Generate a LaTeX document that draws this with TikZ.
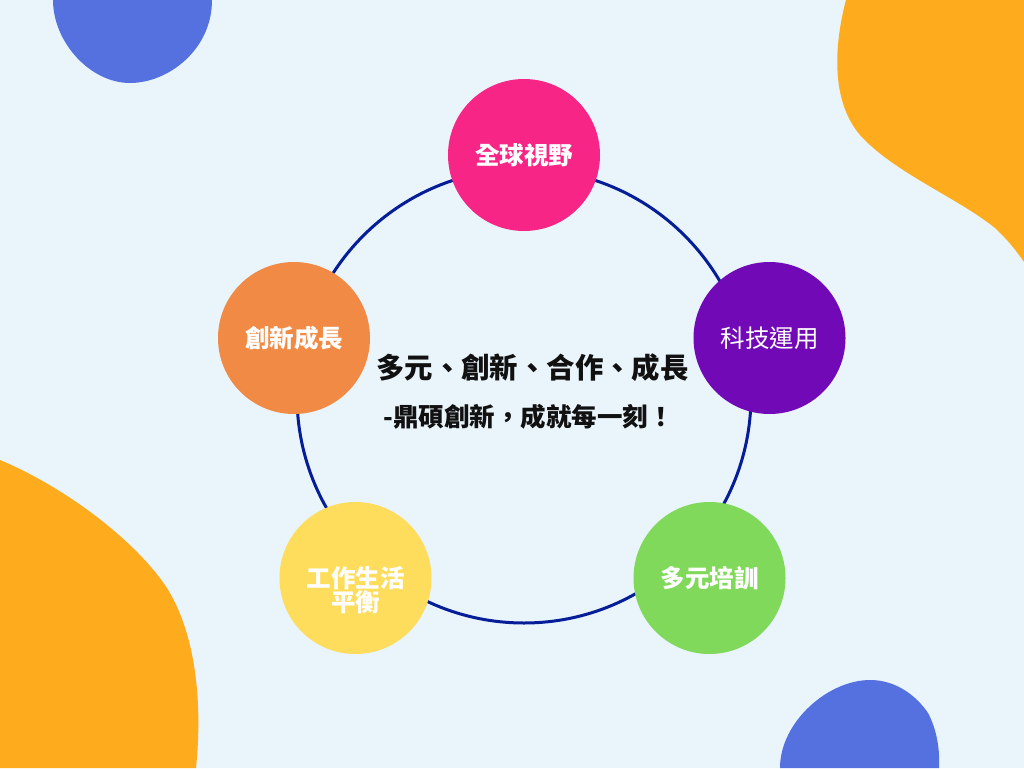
\documentclass[tikz,border=0pt]{standalone}
\usepackage{fontspec}
\newfontfamily\cjk{Noto Sans CJK TC}
\definecolor{bgc}{HTML}{E9F4FB}
\definecolor{blobblue}{HTML}{5570DF}
\definecolor{bloborange}{HTML}{FEAC1D}
\definecolor{cpink}{HTML}{F72585}
\definecolor{cpurple}{HTML}{7209B7}
\definecolor{cgreen}{HTML}{80D95A}
\definecolor{cyellow}{HTML}{FFDD5C}
\definecolor{corange}{HTML}{F08A45}
\definecolor{ringc}{HTML}{051E98}
\definecolor{txt}{HTML}{111111}
\tikzset{
  bubble/.style={circle, minimum size=152pt, inner sep=0pt, text=white, align=center,
    font=\cjk\bfseries\fontsize{24.5pt}{24pt}\selectfont},
  bubbletext/.style={inner sep=0pt, text=white, align=center,
    font=\cjk\bfseries\fontsize{24.5pt}{23.5pt}\selectfont},
  caption/.style={text=txt, inner sep=0pt}
}
\begin{document}
\begin{tikzpicture}[x=1pt,y=-1pt]
\useasboundingbox (0,0) rectangle (1024,768);
\fill[bgc] (0,0) rectangle (1024,768);
% background blobs
\fill[blobblue] (53,0) .. controls (53,42) and (90,83) .. (130,83) .. controls (168,83) and (212,50) .. (212,0) -- cycle;
\fill[bloborange] (846,0) .. controls (838,30) and (826,95) .. (860,135) .. controls (893,172) and (958,198) .. (995,228) .. controls (1008,240) and (1018,253) .. (1024,262) -- (1024,0) -- cycle;
\fill[bloborange] (0,460) .. controls (60,485) and (130,535) .. (165,585) .. controls (195,630) and (203,700) .. (196,768) -- (0,768) -- cycle;
\fill[blobblue] (780,768) .. controls (780,722) and (828,680) .. (870,680) .. controls (898,680) and (918,698) .. (928,713) .. controls (937,730) and (940,750) .. (939,768) -- cycle;
% ring
\coordinate (ctr) at (524,396);
\draw[ringc, line width=3pt] (ctr) circle (227);
% bubbles
\node[bubble, fill=cpink] (g) at (524,155) {全球視野};
\node[bubble, fill=cpurple, font=\cjk\fontsize{24.5pt}{24pt}\selectfont] (t) at (769.5,338) {科技運用};
\node[bubble, fill=cgreen] (d) at (709.5,578) {多元培訓};
\node[bubble, fill=cyellow] (w) at (355.5,578) {};
\node[bubbletext] (wl) at (355.5,590) {工作生活\\平衡};
\node[bubble, fill=corange] (i) at (294,338) {創新成長};
% center text
\node[caption, font=\cjk\bfseries\fontsize{28.4pt}{30pt}\selectfont] (l1) at (532.5,368) {多元、創新、合作、成長};
\node[caption, font=\cjk\bfseries\fontsize{25.5pt}{27pt}\selectfont] (l2) at (528.5,417) {-鼎碩創新，成就每一刻！};
\end{tikzpicture}
\end{document}
